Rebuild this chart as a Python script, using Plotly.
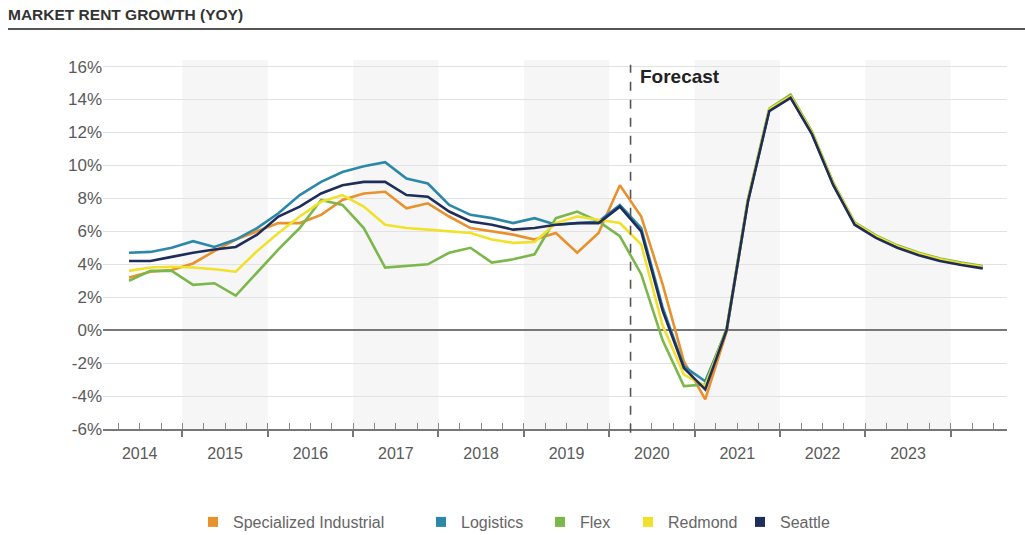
import pandas as pd
import plotly.graph_objects as go

# Quarterly observations, 2014 Q2 through 2024 Q2 (forecast from 2020 Q2)
quarters = pd.period_range("2014Q2", "2024Q2", freq="Q")

specialized_industrial = [
    3.2, 3.55, 3.65, 4.05, 4.8, 5.5, 6.0, 6.5, 6.5, 7.0,
    7.9, 8.3, 8.4, 7.4, 7.7, 6.9, 6.2, 6.0, 5.8, 5.5,
    5.9, 4.7, 5.9, 8.8, 6.9, 2.8, -1.9, -4.2, -0.1, 7.85,
    13.35, 14.15, 11.95, 8.85, 6.45, 5.65, 5.05, 4.6, 4.25, 4.0,
    3.8,
]
logistics = [
    4.7, 4.75, 5.0, 5.4, 5.05, 5.5, 6.2, 7.1, 8.2, 9.0,
    9.6, 9.95, 10.2, 9.2, 8.9, 7.6, 7.0, 6.8, 6.5, 6.8,
    6.4, 6.5, 6.6, 7.6, 6.2, 1.4, -2.2, -3.1, 0.0, 7.85,
    13.35, 14.15, 11.95, 8.85, 6.45, 5.65, 5.05, 4.6, 4.25, 4.0,
    3.8,
]
flex = [
    3.0, 3.6, 3.6, 2.75, 2.85, 2.1, 3.5, 4.9, 6.2, 7.9,
    7.6, 6.2, 3.8, 3.9, 4.0, 4.7, 5.0, 4.1, 4.3, 4.6,
    6.8, 7.2, 6.6, 5.7, 3.4, -0.6, -3.4, -3.3, 0.1, 7.95,
    13.45, 14.3, 12.05, 8.95, 6.55, 5.75, 5.15, 4.7, 4.35, 4.1,
    3.9,
]
redmond = [
    3.6, 3.8, 3.85, 3.8, 3.7, 3.55, 4.8, 5.9, 6.9, 7.8,
    8.2, 7.5, 6.4, 6.2, 6.1, 6.0, 5.9, 5.5, 5.3, 5.35,
    6.5, 6.9, 6.7, 6.5, 5.2, 0.3, -2.7, -3.4, 0.0, 7.9,
    13.4, 14.2, 12.0, 8.9, 6.5, 5.7, 5.1, 4.65, 4.3, 4.05,
    3.85,
]
seattle = [
    4.2, 4.2, 4.45, 4.7, 4.9, 5.05, 5.8, 6.9, 7.5, 8.3,
    8.8, 9.0, 9.0, 8.2, 8.1, 7.2, 6.6, 6.4, 6.1, 6.2,
    6.4, 6.5, 6.5, 7.5, 6.0, 1.2, -2.3, -3.6, 0.0, 7.8,
    13.3, 14.1, 11.9, 8.8, 6.4, 5.6, 5.0, 4.55, 4.2, 3.95,
    3.75,
]

series_names = ["Specialized Industrial", "Logistics", "Flex", "Redmond", "Seattle"]
series_values = [specialized_industrial, logistics, flex, redmond, seattle]
series_colors = ["#e8912d", "#2c88a9", "#7cb74b", "#f1e12a", "#1f2d5a"]

year_labels = [str(y) for y in range(2014, 2024)]
y_tick_values = list(range(-6, 17, 2))
y_tick_labels = [f"{v}%" for v in y_tick_values]
shaded_years = [2015, 2017, 2019, 2021, 2023]
forecast_start = 2020.25
forecast_label = "Forecast"
title_text = "MARKET RENT GROWTH (YOY)"

# Quarter midpoints on a continuous year scale
x_vals = [p.year + (p.quarter - 0.5) / 4 for p in quarters]

W, H = 1025, 535
M_L, M_R, M_T, M_B = 103, 18, 60, 106
X_RANGE = [2014.07, 2024.66]
Y_RANGE = [-6, 16.4]
FONT = "Liberation Sans, Arial, sans-serif"
TEXT_GREY = "#5a5a5a"
plot_w = W - M_L - M_R
plot_h = H - M_T - M_B

# left edge (px) of each legend entry along the bottom row
legend_left_px = [193, 421, 540, 628, 740]

fig = go.Figure()

for name, vals, col in zip(series_names, series_values, series_colors):
    fig.add_trace(go.Scatter(
        x=x_vals, y=vals, mode="lines", name=name,
        line=dict(color=col, width=2.6), showlegend=False,
    ))

# square swatches, one small legend per series
legend_ids = ["legend", "legend2", "legend3", "legend4", "legend5"]
for name, col, lid in zip(series_names, series_colors, legend_ids):
    fig.add_trace(go.Scatter(
        x=[None], y=[None], mode="markers", name=name, legend=lid,
        marker=dict(symbol="square", size=10, color=col),
    ))

# helper axis carrying the year-boundary ticks
fig.add_trace(go.Scatter(x=[X_RANGE[0]], y=[None], xaxis="x2", showlegend=False,
                         hoverinfo="skip", mode="markers"))

shapes = []
for yr in shaded_years:
    shapes.append(dict(type="rect", xref="x", yref="paper", x0=yr, x1=yr + 1,
                       y0=0, y1=1, fillcolor="#f6f6f6", line=dict(width=0),
                       layer="below"))
shapes.append(dict(type="line", xref="x", yref="paper", x0=forecast_start,
                   x1=forecast_start, y0=-0.01, y1=0.987,
                   line=dict(color="#555555", width=1.6, dash="dash")))
# rule under the heading
shapes.append(dict(type="line", xref="paper", yref="paper",
                   x0=(8 - M_L) / plot_w, x1=(W - M_L) / plot_w,
                   y0=(H - M_B - 29) / plot_h, y1=(H - M_B - 29) / plot_h,
                   line=dict(color="#555555", width=2)))

legend_style = dict(orientation="h", xref="container", yref="container",
                    xanchor="left", y=1 - 522 / H, yanchor="middle",
                    font=dict(size=16, color="#666666", family=FONT),
                    bgcolor="rgba(0,0,0,0)")
legends = {lid: dict(legend_style, x=px / W)
           for lid, px in zip(legend_ids, legend_left_px)}

fig.update_layout(
    width=W, height=H,
    margin=dict(l=M_L, r=M_R, t=M_T, b=M_B),
    paper_bgcolor="white", plot_bgcolor="white",
    font=dict(family=FONT, color=TEXT_GREY),
    title=dict(text=f"<b>{title_text}</b>", x=8 / W, xanchor="left",
               xref="container", yref="container", y=1 - 15 / H,
               yanchor="middle", font=dict(size=15.5, color="#333333", family=FONT)),
    shapes=shapes,
    showlegend=True,
    xaxis=dict(
        range=X_RANGE, showgrid=False, zeroline=False,
        tickvals=[y + 0.5 for y in range(2014, 2024)], ticktext=year_labels,
        ticks="", showline=True, linecolor="#777777", linewidth=2,
        tickfont=dict(size=16, color=TEXT_GREY), ticklabelstandoff=9,
        minor=dict(tick0=2014, dtick=0.25, ticks="inside", ticklen=6,
                   tickcolor="#888888", tickwidth=1, showgrid=False),
    ),
    xaxis2=dict(
        range=X_RANGE, overlaying="x", side="bottom", anchor="y",
        tickvals=list(range(2015, 2025)), ticks="outside", ticklen=7,
        tickwidth=2, tickcolor="#777777", showticklabels=False,
        showgrid=False, zeroline=False, showline=False,
    ),
    yaxis=dict(
        range=Y_RANGE, tickvals=y_tick_values, ticktext=y_tick_labels,
        gridcolor="#e2e2e2", gridwidth=1, zeroline=True,
        zerolinecolor="#777777", zerolinewidth=1.5, showline=False,
        tickfont=dict(size=17, color=TEXT_GREY),
    ),
    **legends,
)

fig.add_annotation(x=forecast_start, y=15.4, xref="x", yref="y", xshift=7,
                   text=f"<b>{forecast_label}</b>", showarrow=False,
                   xanchor="left", yanchor="middle",
                   font=dict(size=19, color="#222222", family=FONT))

fig.write_html("out.html")
